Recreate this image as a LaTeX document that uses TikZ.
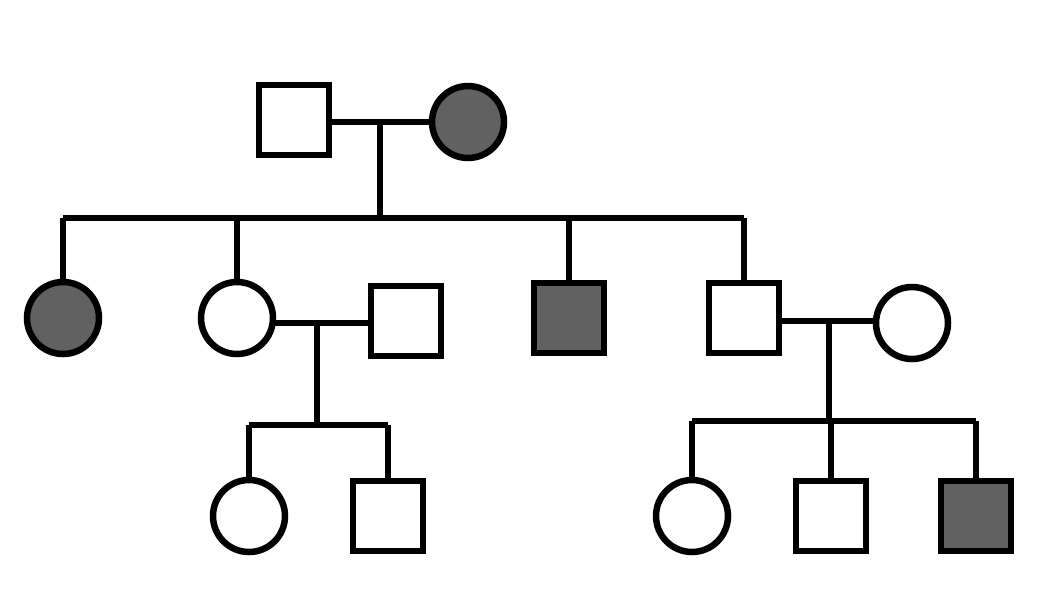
\documentclass[tikz,border=0pt]{standalone}
\begin{document}
\begin{tikzpicture}[x=1pt,y=-1pt,line width=6.5pt,
 m/.style={draw,minimum size=70pt,inner sep=0pt,outer sep=0pt,rectangle},
 f/.style={draw,circle,minimum size=72pt,inner sep=0pt,outer sep=0pt},
 aff/.style={fill=black!62}]
\useasboundingbox (0,0) rectangle (1040,606);
\node[m] (a) at (294,120) {};
\node[f,aff] (b) at (468,122) {};
\node[f,aff] (c) at (63,318) {};
\node[f] (d) at (237,318) {};
\node[m] (e) at (406,321) {};
\node[m,aff] (g) at (569,318) {};
\node[m] (h) at (744,318) {};
\node[f] (i) at (912,323) {};
\node[f] (j) at (249,516) {};
\node[m] (k) at (388,516) {};
\node[f] (l) at (692,516) {};
\node[m] (n) at (831,516) {};
\node[m,aff] (o) at (976,516) {};
\coordinate (m1) at (380,122);
\coordinate (s1) at (380,218);
\coordinate (m2) at (317,323);
\coordinate (s2) at (317,425);
\coordinate (m3) at (829,321);
\coordinate (s3) at (829,421);
\draw (a.east|-m1) -- (b.west|-m1);
\draw (m1) -- (s1);
\draw (c.north|-s1) -- (h.north|-s1);
\foreach \p in {c,d,g,h} \draw (\p.north|-s1) -- (\p.north);
\draw (d.east|-m2) -- (e.west|-m2);
\draw (m2) -- (s2);
\draw (j.north|-s2) -- (k.north|-s2);
\foreach \p in {j,k} \draw (\p.north|-s2) -- (\p.north);
\draw (h.east|-m3) -- (i.west|-m3);
\draw (m3) -- (s3);
\draw (l.north|-s3) -- (o.north|-s3);
\foreach \p in {l,n,o} \draw (\p.north|-s3) -- (\p.north);
\end{tikzpicture}
\end{document}
